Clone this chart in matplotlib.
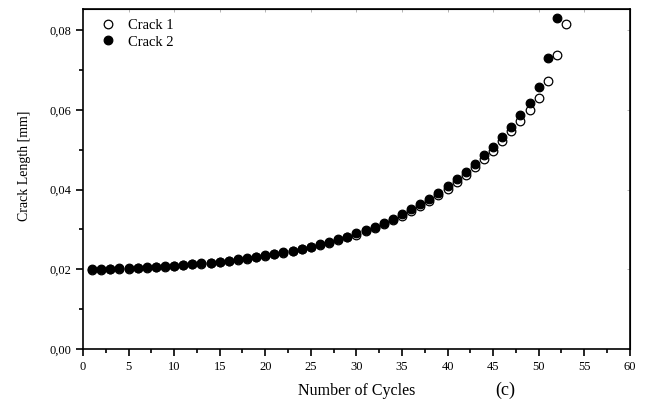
import matplotlib
matplotlib.use("Agg")
import matplotlib.pyplot as plt
from matplotlib.ticker import MultipleLocator, FuncFormatter

plt.rcParams["font.family"] = ["Liberation Serif", "DejaVu Serif"]

cycles_1 = list(range(1, 54))
crack_1 = [
    0.0199, 0.0199, 0.0200, 0.0201, 0.0201, 0.0202, 0.0204, 0.0205, 0.0206, 0.0208,
    0.0210, 0.0212, 0.0214, 0.0216, 0.0218, 0.0221, 0.0224, 0.0227, 0.0230, 0.0234,
    0.0238, 0.0242, 0.0246, 0.0251, 0.0256, 0.0261, 0.0267, 0.0273, 0.0280, 0.0287,
    0.0295, 0.0304, 0.0313, 0.0323, 0.0334, 0.0345, 0.0358, 0.0371, 0.0386, 0.0401,
    0.0418, 0.0436, 0.0456, 0.0476, 0.0498, 0.0522, 0.0546, 0.0572, 0.0600, 0.0630,
    0.0673, 0.0738, 0.0815,
]

cycles_2 = list(range(1, 53))
crack_2 = [
    0.0200, 0.0200, 0.0201, 0.0202, 0.0202, 0.0203, 0.0205, 0.0206, 0.0207, 0.0209,
    0.0211, 0.0213, 0.0215, 0.0217, 0.0219, 0.0222, 0.0225, 0.0228, 0.0231, 0.0235,
    0.0239, 0.0243, 0.0247, 0.0252, 0.0257, 0.0263, 0.0269, 0.0275, 0.0282, 0.0290,
    0.0298, 0.0307, 0.0317, 0.0327, 0.0338, 0.0350, 0.0363, 0.0377, 0.0392, 0.0408,
    0.0426, 0.0445, 0.0465, 0.0486, 0.0508, 0.0533, 0.0558, 0.0587, 0.0616, 0.0658,
    0.0730, 0.0830,
]

fig = plt.figure(figsize=(6.48, 4.0), dpi=100)
ax = fig.add_axes([0.128, 0.1275, 0.844, 0.85])

ax.plot(cycles_1, crack_1, "o", ms=6.2, mfc="white", mec="black", mew=0.9,
        label="Crack 1", zorder=2)
ax.plot(cycles_2, crack_2, "o", ms=6.2, mfc="black", mec="black", mew=0.9,
        label="Crack 2", zorder=3)

ax.set_xlim(0, 60)
ax.set_ylim(0, 0.0853)
ax.xaxis.set_major_locator(MultipleLocator(5))
ax.xaxis.set_minor_locator(MultipleLocator(2.5))
ax.yaxis.set_major_locator(MultipleLocator(0.02))
ax.yaxis.set_minor_locator(MultipleLocator(0.01))
ax.yaxis.set_major_formatter(FuncFormatter(lambda v, p: f"{v:.2f}".replace(".", ",")))

ax.tick_params(which="both", direction="out", labelsize=9, width=1.2)
ax.tick_params(which="major", length=5)
ax.tick_params(which="minor", length=3)
for s in ax.spines.values():
    s.set_linewidth(1.2)

# small inward ticks on top and right, as in the original
top = ax.secondary_xaxis("top")
top.xaxis.set_major_locator(MultipleLocator(5))
top.tick_params(direction="in", length=2, width=0.5, labeltop=False, colors="0.6")
right = ax.secondary_yaxis("right")
right.yaxis.set_major_locator(MultipleLocator(0.02))
right.tick_params(direction="in", length=2, width=0.5, labelright=False, colors="0.6")
top.spines["top"].set_color("black")
right.spines["right"].set_color("black")

ax.set_xlabel("Number of Cycles", fontsize=11.5, labelpad=7)
ax.set_ylabel("Crack Length [mm]", fontsize=10)
ax.yaxis.set_label_coords(-0.095, 0.54)
fig.text(0.78, 0.003, "(c)", fontsize=13, ha="center", va="bottom")

ax.legend(loc="upper left", bbox_to_anchor=(0.013, 1.0), frameon=False,
          fontsize=10.5, handletextpad=0.9, borderaxespad=0.3,
          labelspacing=0.2, handlelength=1.0)

fig.savefig("out.png", dpi=100)
